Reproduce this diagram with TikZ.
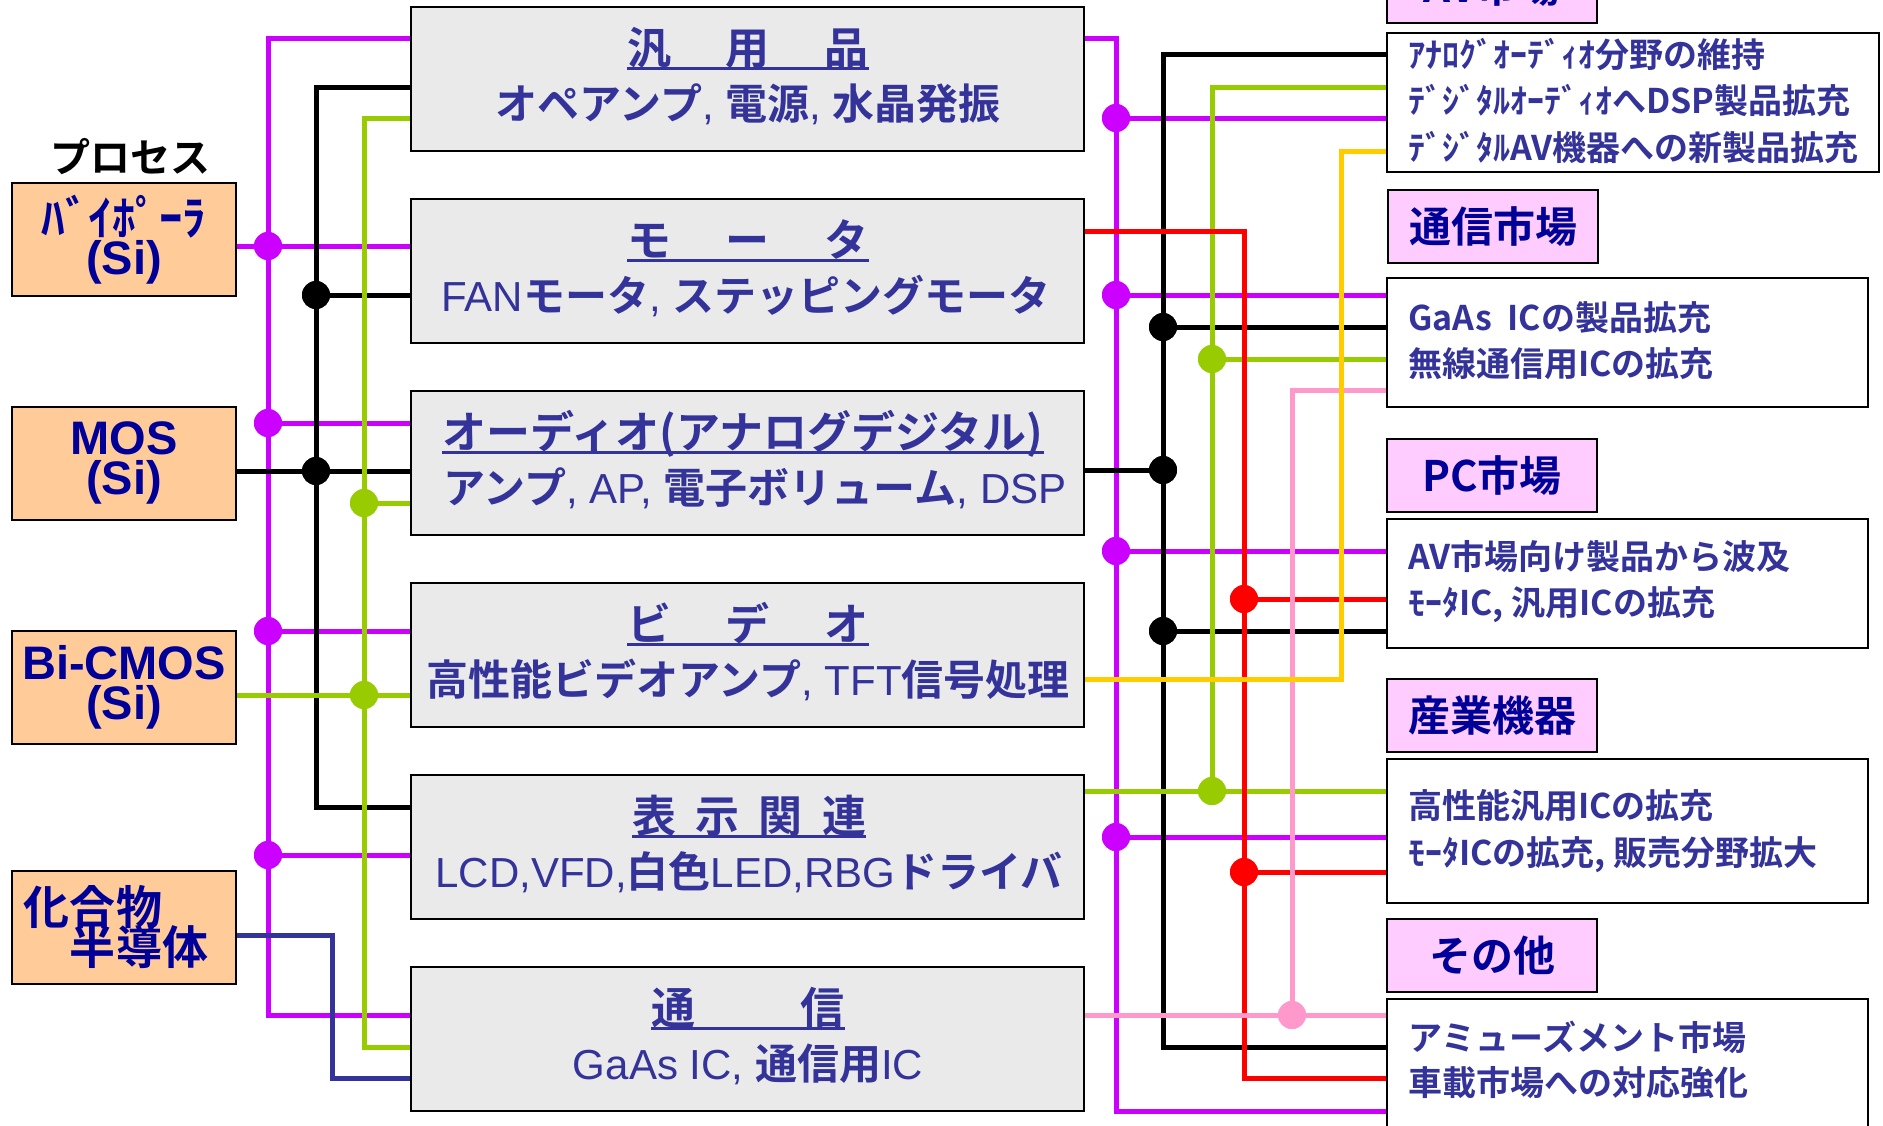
\documentclass[tikz,border=0pt]{standalone}
\usepackage{fontspec}
\newfontfamily\fjp{Noto Sans CJK JP}[BoldFont={Noto Sans CJK JP Bold}]
\newfontfamily\far{Liberation Sans}
\newcommand\latn[1]{{\far\mdseries #1}}
\definecolor{cM}{HTML}{CC00FF}
\definecolor{cK}{HTML}{000000}
\definecolor{cG}{HTML}{99CC00}
\definecolor{cR}{HTML}{FF0000}
\definecolor{cP}{HTML}{FF99CC}
\definecolor{cY}{HTML}{FFCC00}
\definecolor{cN}{HTML}{333399}
\definecolor{midtxt}{HTML}{333399}
\definecolor{deeptxt}{HTML}{000099}
\definecolor{boxgray}{HTML}{EAEAEA}
\definecolor{peach}{HTML}{FFCC99}
\definecolor{lpink}{HTML}{FFCCFF}
\begin{document}
\begin{tikzpicture}[x=0.5pt,y=-0.5pt,
  con/.style={line width=2.5pt},
  lM/.style={con,draw=cM}, lK/.style={con,draw=cK}, lG/.style={con,draw=cG},
  lR/.style={con,draw=cR}, lP/.style={con,draw=cP}, lY/.style={con,draw=cY},
  lN/.style={con,draw=cN},
  dot/.style={circle,draw=none,inner sep=0pt,minimum size=14pt},
  dM/.style={dot,fill=cM}, dK/.style={dot,fill=cK}, dG/.style={dot,fill=cG},
  dR/.style={dot,fill=cR}, dP/.style={dot,fill=cP},
  midbox/.style={draw=black,line width=1pt,fill=boxgray,minimum width=336.5pt,minimum height=72pt,inner sep=0pt},
  procbox/.style={draw=black,line width=1pt,fill=peach,minimum width=112pt,minimum height=56.5pt,inner sep=0pt,
     text=deeptxt,align=center},
  hdrbox/.style={draw=black,line width=1pt,fill=lpink,minimum width=105pt,minimum height=36.5pt,inner sep=0pt,
     font=\fjp\bfseries\fontsize{21}{21}\selectfont,text=deeptxt},
  mktbox/.style={draw=black,line width=1pt,fill=white,inner sep=0pt},
  ttl/.style={anchor=base,inner sep=0pt,font=\fjp\bfseries\fontsize{22}{22}\selectfont,text=midtxt},
  subl/.style={anchor=base,inner sep=0pt,font=\fjp\bfseries\fontsize{21}{21}\selectfont,text=midtxt},
  mtxt/.style={anchor=base west,inner sep=0pt,font=\fjp\bfseries\fontsize{17}{17}\selectfont,text=midtxt},
  ulst/.style={line width=1.5pt,draw=midtxt}
]
\useasboundingbox (0,0) rectangle (1883,1125);
\fill[white] (0,0) rectangle (1883,1125);
\clip (0,0) rectangle (1883,1125);

% process boxes (with their texts)
\node[procbox,font=\far\bfseries\fontsize{23.5}{19.5}\selectfont\setlength\lineskiplimit{-50pt}]
  (bip) at (124,239.5) {{\fjp ﾊﾞｲﾎﾟｰﾗ}\\(Si)};
\node[procbox,font=\far\bfseries\fontsize{23.5}{20}\selectfont\setlength\lineskiplimit{-50pt}]
  (mos) at (124,463) {MOS\\(Si)};
\node[procbox,font=\far\bfseries\fontsize{23.5}{20}\selectfont\setlength\lineskiplimit{-50pt}]
  (bic) at (124,687.5) {Bi-CMOS\\(Si)};
\node[procbox,align=left,text width=100pt,font=\fjp\bfseries\fontsize{23}{20}\selectfont\setlength\lineskiplimit{-50pt}]
  (cmp) at (124,927.5) {化合物\\　半導体};

% product boxes
\node[midbox] (b1) at (747.5,79) {};
\node[midbox] (b2) at (747.5,271) {};
\node[midbox] (b3) at (747.5,463) {};
\node[midbox] (b4) at (747.5,655) {};
\node[midbox] (b5) at (747.5,847) {};
\node[midbox] (b6) at (747.5,1039) {};

% market boxes
\node[mktbox,minimum width=246pt,minimum height=69.5pt] (av) at (1633,102.5) {};
\node[mktbox,minimum width=240.5pt,minimum height=64.5pt] (tsu) at (1627.5,342.5) {};
\node[mktbox,minimum width=240.5pt,minimum height=64.5pt] (pc) at (1627.5,583.5) {};
\node[mktbox,minimum width=240.5pt,minimum height=72pt] (san) at (1627.5,831) {};
\node[mktbox,minimum width=240.5pt,minimum height=80.5pt] (oth) at (1627.5,1079.5) {};
\node[hdrbox] (avh) at (1492,-13.5) {AV市場};
\node[hdrbox] (tsuh) at (1493,226.5) {通信市場};
\node[hdrbox] (pch) at (1492,475.5) {PC市場};
\node[hdrbox] (sanh) at (1492,715.5) {産業機器};
\node[hdrbox] (othh) at (1492,955.5) {その他};

% junction dots (left)
\node[dM] (dL1) at (268,246) {};
\node[dM] (dL2) at (268,423) {};
\node[dM] (dL3) at (268,631) {};
\node[dM] (dL4) at (268,855) {};
\node[dK] (dL5) at (316,295) {};
\node[dK] (dL6) at (316,471) {};
\node[dG] (dL7) at (364,503) {};
\node[dG] (dL8) at (364,695) {};
% junction dots (right)
\node[dM] (dR1) at (1116,118) {};
\node[dM] (dR2) at (1116,295) {};
\node[dM] (dR3) at (1116,551) {};
\node[dM] (dR4) at (1116,837) {};
\node[dK] (dR5) at (1163,470) {};
\node[dK] (dR6) at (1163,327) {};
\node[dK] (dR7) at (1163,631) {};
\node[dG] (dR8) at (1212,359) {};
\node[dG] (dR9) at (1212,791) {};
\node[dR] (dR10) at (1244,599) {};
\node[dR] (dR11) at (1244,872) {};
\node[dP] (dR12) at (1292,1015) {};

% left connectors
\draw[lM] (b1.west |- 0,38) -| (268,1015) -- (b6.west |- 0,1015);
\draw[lM] (bip.east |- dL1) -- (b2.west |- dL1);
\draw[lM] (dL2.center) -- (b3.west |- dL2);
\draw[lM] (dL3.center) -- (b4.west |- dL3);
\draw[lM] (dL4.center) -- (b5.west |- dL4);
\draw[lK] (b1.west |- 0,87) -| (316,807) -- (b5.west |- 0,807);
\draw[lK] (dL5.center) -- (b2.west |- dL5);
\draw[lK] (mos.east |- dL6) -- (b3.west |- dL6);
\draw[lG] (b1.west |- 0,118) -| (364,1047) -- (b6.west |- 0,1047);
\draw[lG] (dL7.center) -- (b3.west |- dL7);
\draw[lG] (bic.east |- dL8) -- (b4.west |- dL8);
\draw[lN] (cmp.east |- 0,935) -| (332,1078) -- (b6.west |- 0,1078);

% right connectors
\draw[lM] (b1.east |- 0,38) -| (1116,1111) -- (oth.west |- 0,1111);
\draw[lM] (dR1.center) -- (av.west |- dR1);
\draw[lM] (dR2.center) -- (tsu.west |- dR2);
\draw[lM] (dR3.center) -- (pc.west |- dR3);
\draw[lM] (dR4.center) -- (san.west |- dR4);
\draw[lK] (av.west |- 0,54) -| (1163,1047) -- (oth.west |- 0,1047);
\draw[lK] (b3.east |- dR5) -- (dR5.center);
\draw[lK] (dR6.center) -- (tsu.west |- dR6);
\draw[lK] (dR7.center) -- (pc.west |- dR7);
\draw[lG] (av.west |- 0,87) -| (dR9.center);
\draw[lG] (b5.east |- dR9) -- (san.west |- dR9);
\draw[lG] (dR8.center) -- (tsu.west |- dR8);
\draw[lR] (b2.east |- 0,231) -| (1244,1078) -- (oth.west |- 0,1078);
\draw[lR] (dR10.center) -- (pc.west |- dR10);
\draw[lR] (dR11.center) -- (san.west |- dR11);
\draw[lP] (b6.east |- dR12) -- (oth.west |- dR12);
\draw[lP] (dR12.center) |- (tsu.west |- 0,390);
\draw[lY] (b4.east |- 0,679) -| (1341,151) -- (av.west |- 0,151);

% redraw dots on top
\foreach \d/\c in {dL1/cM,dL2/cM,dL3/cM,dL4/cM,dL5/cK,dL6/cK,dL7/cG,dL8/cG,
  dR1/cM,dR2/cM,dR3/cM,dR4/cM,dR5/cK,dR6/cK,dR7/cK,dR8/cG,dR9/cG,dR10/cR,dR11/cR,dR12/cP}
  \fill[\c] (\d) circle (7pt);

% process label
\node[anchor=base,inner sep=0pt,font=\fjp\bfseries\fontsize{20}{20}\selectfont] (proc) at (130,172) {プロセス};

% product titles
\node[ttl] (t1) at (748,64) {\makebox[120.5pt][s]{汎\hfil 用\hfil 品}};
\node[ttl] (t2) at (748,256) {\makebox[120.5pt][s]{モ\hfil ー\hfil タ}};
\node[ttl] (t3) at (743,448) {オーディオ(アナログデジタル)};
\node[ttl] (t4) at (748,640) {\makebox[120.5pt][s]{ビ\hfil デ\hfil オ}};
\node[ttl] (t5) at (749,832) {\makebox[117pt][s]{表\hfil 示\hfil 関\hfil 連}};
\node[ttl] (t6) at (748,1024) {\makebox[96.5pt][s]{通\hfil 信}};
\foreach \t in {t1,t2,t3,t4,t5,t6}
  \draw[ulst] ([yshift=-2pt]\t.base west) -- ([yshift=-2pt]\t.base east);

% product sub lines
\node[subl] (s1) at (748,119) {オペアンプ\latn{, }電源\latn{, }水晶発振};
\node[subl] (s2) at (746,311) {\latn{FAN}モータ\latn{, }ステッピングモータ};
\node[subl] (s3) at (755,503) {アンプ\latn{, AP, }電子ボリューム\latn{, DSP}};
\node[subl] (s4) at (748,695) {高性能ビデオアンプ\latn{, TFT}信号処理};
\node[subl] (s5) at (749,887) {\latn{LCD,VFD,}白色\latn{LED,RBG}ドライバ};
\node[subl] (s6) at (748,1079) {\latn{GaAs IC, }通信用\latn{IC}};

% market texts
\node[mtxt] (av1) at (1408,67) {ｱﾅﾛｸﾞｵｰﾃﾞｨｵ分野の維持};
\node[mtxt] (av2) at (1408,113) {ﾃﾞｼﾞﾀﾙｵｰﾃﾞｨｵへDSP製品拡充};
\node[mtxt] (av3) at (1408,160) {ﾃﾞｼﾞﾀﾙAV機器への新製品拡充};
\node[mtxt] (ts1) at (1408,330) {GaAs\ \ ICの製品拡充};
\node[mtxt] (ts2) at (1408,376) {無線通信用ICの拡充};
\node[mtxt] (pc1) at (1408,569) {AV市場向け製品から波及};
\node[mtxt] (pc2) at (1408,615) {ﾓｰﾀIC, 汎用ICの拡充};
\node[mtxt] (sa1) at (1408,818) {高性能汎用ICの拡充};
\node[mtxt] (sa2) at (1408,865) {ﾓｰﾀICの拡充, 販売分野拡大};
\node[mtxt] (ot1) at (1408,1050) {アミューズメント市場};
\node[mtxt] (ot2) at (1408,1095) {車載市場への対応強化};
\end{tikzpicture}
\end{document}
